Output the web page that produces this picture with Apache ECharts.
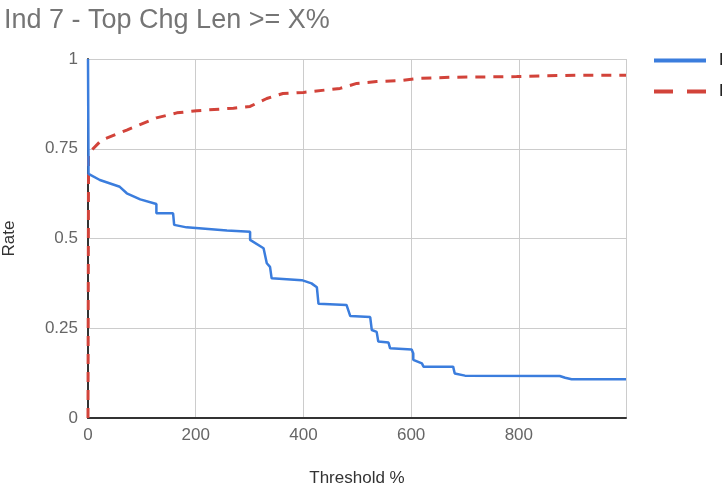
<!DOCTYPE html>
<html>
<head>
<meta charset="utf-8">
<script src="https://cdn.jsdelivr.net/npm/echarts@6/dist/echarts.min.js"></script>
<style>
  html, body { margin: 0; padding: 0; background: #fff; }
  #container { width: 722px; height: 486px; }
</style>
</head>
<body>
<div id="container"></div>
<script>
var seriesNames = ['Hit Rate', 'Drop Rate'];

// [threshold %, rate]
var hitPoints = [
  [0, 1], [1, 0.68], [22, 0.663], [59, 0.644], [72, 0.626], [97, 0.609],
  [127, 0.596], [127, 0.570], [158, 0.570], [160, 0.538], [183, 0.531],
  [258, 0.522], [301, 0.519], [301, 0.496], [326, 0.473], [332, 0.431],
  [338, 0.421], [341, 0.389], [397, 0.384], [415, 0.375], [425, 0.364],
  [428, 0.318], [480, 0.315], [487, 0.284], [524, 0.281], [527, 0.245],
  [536, 0.240], [539, 0.213], [558, 0.210], [561, 0.194], [601, 0.191],
  [604, 0.180], [604, 0.162], [620, 0.152], [623, 0.143], [678, 0.143],
  [681, 0.124], [700, 0.118], [876, 0.117], [886, 0.112], [898, 0.108],
  [999, 0.108]
];

var dropPoints = [
  [0, 0], [1, 0.737], [25, 0.774], [72, 0.802], [127, 0.836], [165, 0.850],
  [202, 0.856], [270, 0.863], [301, 0.868], [332, 0.890], [362, 0.904],
  [400, 0.907], [468, 0.918], [499, 0.932], [536, 0.937], [579, 0.940],
  [617, 0.946], [672, 0.949], [796, 0.951], [907, 0.955], [999, 0.955]
];

var xTicks = [0, 200, 400, 600, 800];

var font = "'Liberation Sans', Arial, sans-serif";
var blue = '#3b7ddd';
var red = '#d2433a';

var dom = document.getElementById('container');
var myChart = echarts.init(dom);

var option = {
  animation: false,
  title: {
    text: 'Ind 7 - Top Chg Len >= X%',
    left: -1,
    top: 2,
    textStyle: {
      fontFamily: font,
      fontSize: 27,
      fontWeight: 'normal',
      color: '#757575'
    }
  },
  legend: {
    orient: 'vertical',
    left: 649,
    top: 47,
    itemWidth: 52,
    itemHeight: 4,
    itemGap: 14,
    textStyle: { fontFamily: font, fontSize: 17, color: '#222', padding: [0, 0, 0, 8] },
    data: [
      { name: seriesNames[0], icon: 'rect' },
      { name: seriesNames[1], icon: 'path://M0,0h19v4h-19z M33,0h19v4h-19z' }
    ]
  },
  grid: {
    left: 88,
    right: 96,
    top: 59,
    bottom: 68,
    outerBoundsMode: 'none',
    containLabel: false
  },
  xAxis: {
    type: 'value',
    min: 0,
    max: 999,
    interval: 200,
    name: 'Threshold %',
    nameLocation: 'middle',
    nameGap: 52,
    nameTextStyle: { fontFamily: font, fontSize: 17, color: '#333' },
    axisLine: { lineStyle: { color: '#333', width: 2 } },
    axisTick: { show: false },
    axisLabel: {
      fontFamily: font, fontSize: 17, color: '#666', margin: 9,
      customValues: xTicks
    },
    splitLine: { show: true, lineStyle: { color: '#ccc', width: 1 } }
  },
  yAxis: {
    type: 'value',
    min: 0,
    max: 1,
    interval: 0.25,
    name: 'Rate',
    nameLocation: 'middle',
    nameGap: 70,
    nameTextStyle: { fontFamily: font, fontSize: 17, color: '#333' },
    axisLine: { show: true, lineStyle: { color: '#333', width: 2 } },
    axisTick: { show: false },
    axisLabel: { fontFamily: font, fontSize: 17, color: '#666', margin: 10 },
    splitLine: { show: true, lineStyle: { color: '#ccc', width: 1 } }
  },
  series: [
    {
      name: seriesNames[0],
      type: 'line',
      symbol: 'none',
      data: hitPoints,
      lineStyle: { color: blue, width: 2.5 },
      itemStyle: { color: blue },
      z: 3
    },
    {
      name: seriesNames[1],
      type: 'line',
      symbol: 'none',
      data: dropPoints,
      lineStyle: { color: red, width: 3, type: [10, 8] },
      itemStyle: { color: red },
      z: 2
    }
  ]
};

myChart.setOption(option);
</script>
</body>
</html>
